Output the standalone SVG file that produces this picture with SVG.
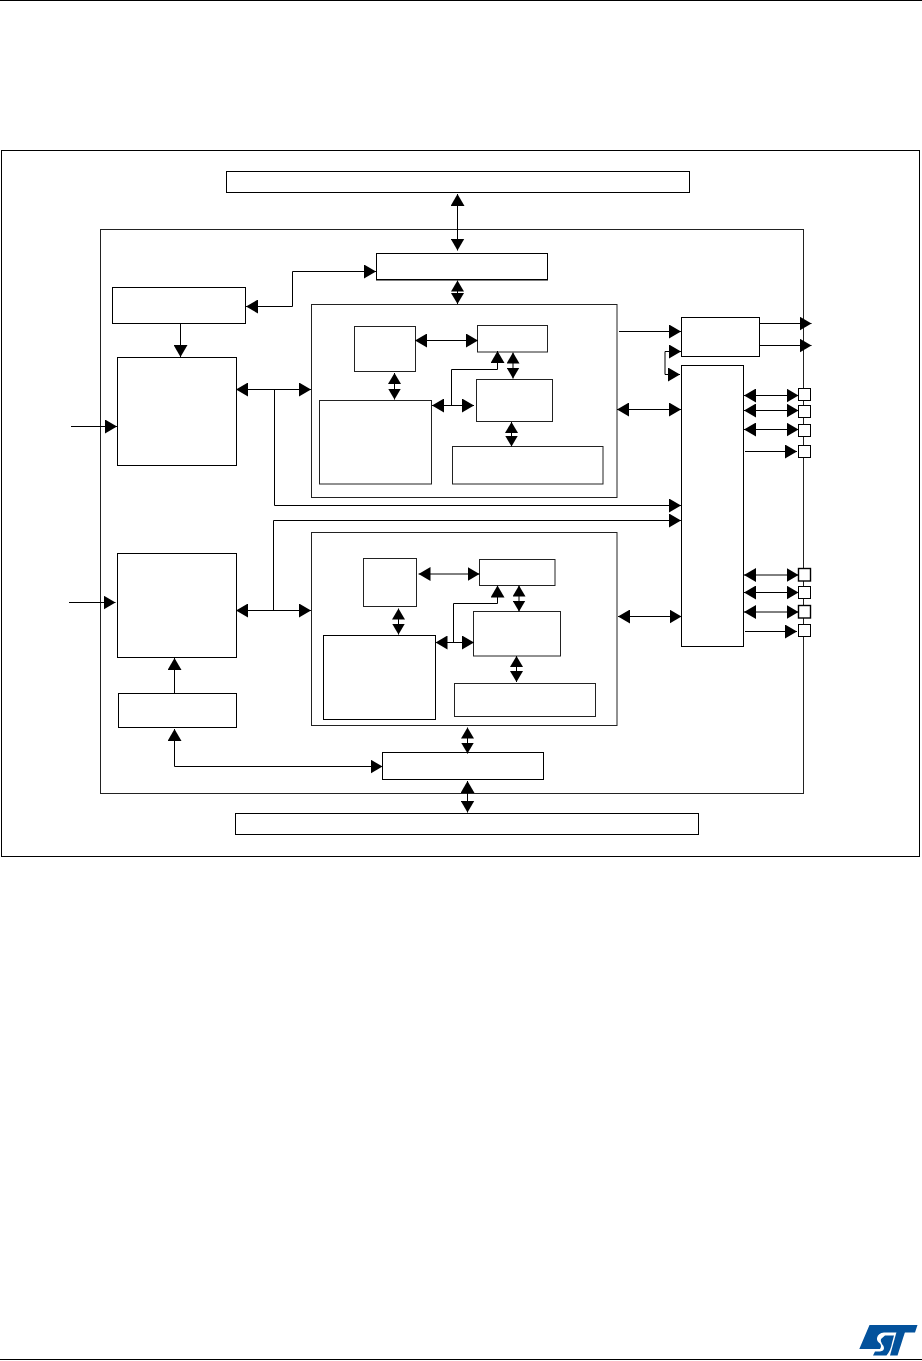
<svg xmlns="http://www.w3.org/2000/svg" width="922" height="1361" viewBox="0 0 922 1361">
<style>
rect{fill:#fff;stroke:#000;stroke-width:1}
rect.g{stroke:#222}
.c path{fill:none;stroke:#000;stroke-width:1}
.a{marker-end:url(#h)}
.b{marker-start:url(#s);marker-end:url(#h)}
.sm{marker-start:url(#s2);marker-end:url(#h2)}
</style>
<defs>
<marker id="h" markerUnits="userSpaceOnUse" markerWidth="12" markerHeight="14" refX="12" refY="7" orient="auto"><path d="M0,0L12,7L0,14z" fill="#000"/></marker>
<marker id="s" markerUnits="userSpaceOnUse" markerWidth="12" markerHeight="14" refX="0" refY="7" orient="auto"><path d="M12,0L0,7L12,14z" fill="#000"/></marker>
<marker id="h2" markerUnits="userSpaceOnUse" markerWidth="11" markerHeight="13" refX="11" refY="6.5" orient="auto"><path d="M0,0L11,6.5L0,13z" fill="#000"/></marker>
<marker id="s2" markerUnits="userSpaceOnUse" markerWidth="11" markerHeight="13" refX="0" refY="6.5" orient="auto"><path d="M11,0L0,6.5L11,13z" fill="#000"/></marker>
</defs>
<rect width="922" height="1361" style="fill:#fff;stroke:none"/>
<path d="M0,0.5H922M0,1359.5H922" stroke="#000" stroke-width="1" fill="none"/>
<g id="frame"><rect x="1.5" y="150.5" width="918" height="706"/></g>
<g id="chip"><rect class="g" x="100.5" y="229.5" width="703" height="564"/></g>
<g id="bar-top"><rect x="226.5" y="171.5" width="463" height="21"/></g>
<g id="bar-bottom"><rect x="235.5" y="813.5" width="463" height="21"/></g>
<g id="bus-top"><rect x="376.5" y="253.5" width="171" height="26"/><path d="M376,280H548" stroke="#000" stroke-width="1" fill="none"/></g>
<g id="bus-bottom"><rect x="382.5" y="752.5" width="161" height="27"/></g>
<g id="ctrl-top"><rect x="112.5" y="287.5" width="133" height="36"/></g>
<g id="core-top"><rect x="117.5" y="357.5" width="119" height="108"/></g>
<g id="core-bottom"><rect x="117.5" y="553.5" width="119" height="104"/></g>
<g id="ctrl-bottom"><rect x="118.5" y="693.5" width="118" height="34"/></g>
<g id="panel-top"><rect class="g" x="311.5" y="304.5" width="305.500" height="193"/></g>
<g id="panel-bottom"><rect class="g" x="311.5" y="532.5" width="305.500" height="193"/></g>
<g id="p1-small"><rect class="g" x="354.5" y="326.5" width="61" height="45"/></g>
<g id="p1-large"><rect class="g" x="319.500" y="400.5" width="112" height="83.500"/></g>
<g id="p1-ur"><rect class="g" x="477.5" y="325.5" width="70" height="26.500"/></g>
<g id="p1-mid"><rect class="g" x="476.5" y="379.5" width="76" height="42"/></g>
<g id="p1-low"><rect class="g" x="452.5" y="446.5" width="150.500" height="37.500"/></g>
<g id="p2-small"><rect class="g" x="363.500" y="558.500" width="53" height="48"/></g>
<g id="p2-large"><rect x="323.5" y="635.5" width="112" height="84"/></g>
<g id="p2-ur"><rect class="g" x="479.5" y="559.5" width="75.500" height="26"/></g>
<g id="p2-mid"><rect class="g" x="473.5" y="611.5" width="87" height="44.500"/></g>
<g id="p2-low"><rect class="g" x="454.5" y="683.500" width="141" height="33"/></g>
<g id="mux-top"><rect x="681.5" y="317.5" width="78" height="39"/></g>
<g id="mux-tall"><rect x="681.5" y="365.5" width="62" height="281"/></g>
<g id="pin1"><rect x="798.5" y="388.5" width="12" height="12"/></g>
<g id="pin2"><rect x="798.5" y="405.5" width="12" height="12"/></g>
<g id="pin3"><rect x="798.5" y="424.5" width="12" height="12"/></g>
<g id="pin4"><rect x="798.5" y="445.5" width="12" height="12"/></g>
<g id="pin5"><rect x="798.5" y="568.5" width="12" height="12.500" style="stroke-width:1.400"/></g>
<g id="pin6"><rect x="798.5" y="586.5" width="12" height="12"/></g>
<g id="pin7"><rect x="798.5" y="605.5" width="12" height="12.500" style="stroke-width:1.400"/></g>
<g id="pin8"><rect x="798.5" y="624.5" width="12" height="12"/></g>
<g id="connectors" class="c">
<path class="b" d="M457.5,194V250.5"/>
<path class="sm" d="M457.5,280.5V304"/>
<path class="b" d="M246,306.5H292.500V271.500H376"/>
<path class="a" d="M180.500,324V357"/>
<path class="a" d="M71,426.500H117"/>
<path class="b" d="M236,389.500H311"/>
<path d="M274.500,389.500V505.500"/>
<path class="a" d="M274.500,505.500H681"/>
<path d="M273.500,610.500V520.500"/>
<path class="a" d="M273.500,520.500H681"/>
<path class="b" d="M236,610.500H311"/>
<path class="a" d="M69,602.500H115.500"/>
<path class="a" d="M174.500,693V658"/>
<path class="b" d="M174.500,729V766.500H382.500"/>
<path class="sm" d="M394.500,373V399.500"/>
<path class="b" d="M415,340.500H478"/>
<path class="b" d="M432,405.500H474"/>
<path class="a" d="M451.500,405.500V369.500H497.500V351"/>
<path class="sm" d="M513,352.500V378.500"/>
<path class="sm" d="M511.500,422V446.500"/>
<path class="a" d="M619,331.500H681"/>
<path class="a" d="M665,351.500H681"/>
<path class="a" d="M665,351.500V374.500H680"/>
<path class="a" d="M760,323.500H811.500"/>
<path class="a" d="M760,345.500H811.500"/>
<path class="b" d="M617,409.500H681"/>
<path class="b" d="M744,395.500H798.500"/>
<path class="b" d="M744,410.500H798.500"/>
<path class="b" d="M744,429.500H798.500"/>
<path class="a" d="M745,451.500H797"/>
<path class="b" d="M418.500,574H479.500"/>
<path class="sm" d="M398.500,608.500V634.500"/>
<path class="b" d="M435.500,642.500H474"/>
<path class="a" d="M453.500,642.500V603.500H497.500V585.500"/>
<path class="sm" d="M519,585.500V611.500"/>
<path class="sm" d="M516.500,656V682"/>
<path class="b" d="M618,616.500H681.500"/>
<path class="b" d="M744,575H798.500"/>
<path class="b" d="M744,592.500H798.500"/>
<path class="b" d="M744,612H798.500"/>
<path class="a" d="M745,631.500H797"/>
<path class="sm" d="M467.500,727.500V753.500"/>
<path class="b" d="M467.500,781V812.500"/>
</g>
<g id="logo" fill="#03529c">
<path d="M869.500,1325H917.500L915,1332.500H884Q878,1333 877,1338Q876.500,1341 880,1343.500Q882,1346 880,1349H859.300Z"/>
<path d="M885,1335.500H894L892,1343Q891,1350 886.500,1355.500H873L875,1351.500H880Q884,1351 884,1348Q884,1346 882,1344Q880,1341 881,1339Z"/>
<path d="M896.500,1332H905L897.500,1355.500H890Z"/>
</g>
</svg>
